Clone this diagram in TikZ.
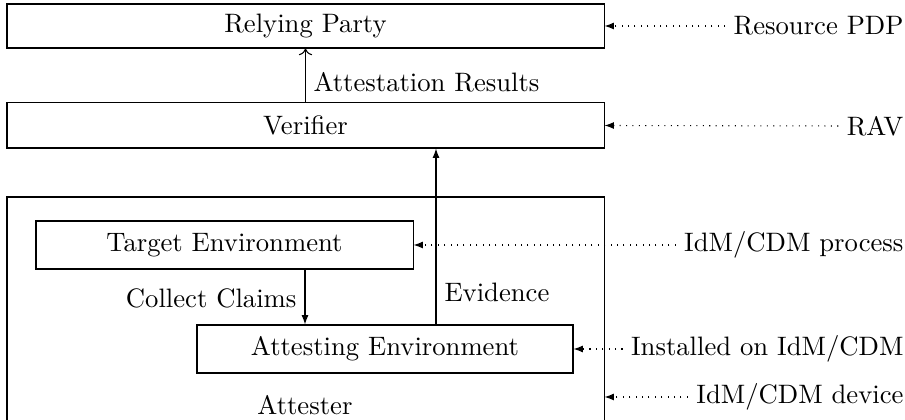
\documentclass[tikz,border=0pt]{standalone}
\usetikzlibrary{arrows.meta}
\begin{document}
\begin{tikzpicture}[x=0.375pt,y=-0.375pt,
  box/.style={draw, line width=0.4pt, inner sep=0pt},
  lbl/.style={inner sep=3pt},
  side/.style={anchor=east, inner sep=3pt},
  dotarrow/.style={dotted, -{Latex[length=3.5pt,width=2.6pt]}},
  flow/.style={-{Latex[length=3.5pt,width=2.6pt]}},
  openflow/.style={-{To[length=2.5pt,width=5pt]}}]
\useasboundingbox (0,0) rectangle (905,420);
% boxes
\node[box, minimum width=223.9pt, minimum height=16.5pt] (rp) at (305.5,26) {Relying Party};
\node[box, minimum width=223.9pt, minimum height=16.9pt] (ver) at (305.5,125.5) {Verifier};
\node[box, minimum width=223.9pt, minimum height=84pt] (att) at (305.5,309) {};
\node[lbl] (attlbl) at (305,405) {Attester};
\node[box, minimum width=141.4pt, minimum height=18pt] (te) at (224.5,245) {Target Environment};
\node[box, minimum width=141pt, minimum height=18pt] (ae) at (385,349) {Attesting Environment};
% side labels
\node[side] (rpdp) at (912,26) {Resource PDP};
\node[side] (rav) at (912,126) {RAV};
\node[side] (proc) at (912,245) {IdM/CDM process};
\node[side] (inst) at (912,349) {Installed on IdM/CDM};
\node[side] (dev) at (912,397) {IdM/CDM device};
% dotted arrows
\draw[dotarrow] (rpdp.west) -- (rp.east);
\draw[dotarrow] (rav.west) -- (ver.east);
\draw[dotarrow] (proc.west) -- (te.east);
\draw[dotarrow] (inst.west) -- (ae.east);
\draw[dotarrow] (dev.west) -- (dev.west -| att.east);
% flows
\draw[openflow] (ver.north) -- (rp.south);
\node[lbl, anchor=west] (arl) at (305,82) {Attestation Results};
\draw[flow] (te.south -| 305,0) -- (ae.north -| 305,0);
\node[lbl, anchor=east] (ccl) at (305,298) {Collect Claims};
\draw[flow] (ae.north -| 436,0) -- (ver.south -| 436,0);
\node[lbl, anchor=west] (evl) at (436,292) {Evidence};
\end{tikzpicture}
\end{document}
